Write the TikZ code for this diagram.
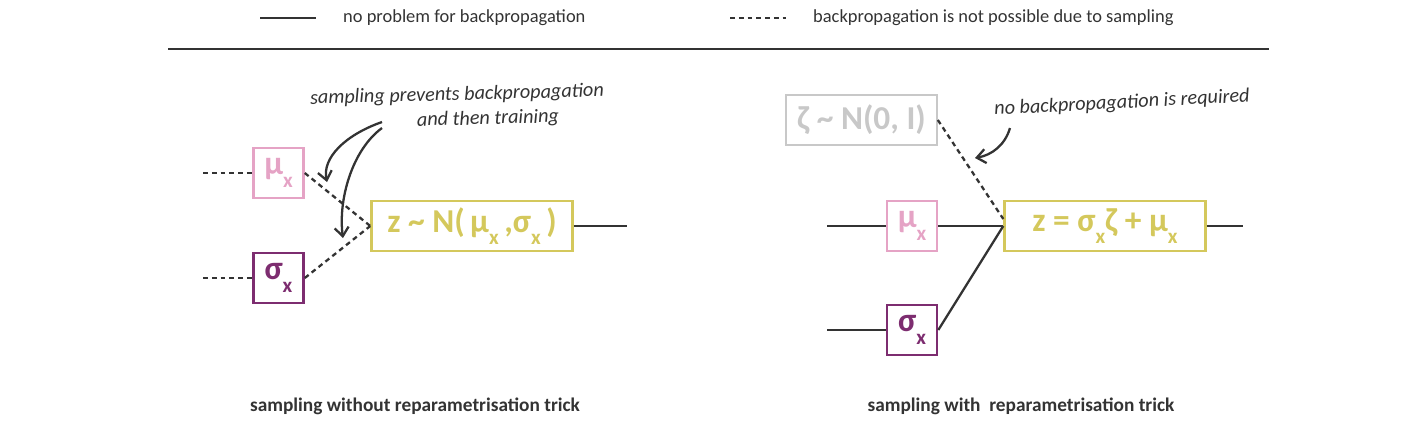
\documentclass[tikz,border=0pt]{standalone}
\usepackage{fontspec}
\setmainfont{Carlito}
\usetikzlibrary{arrows.meta}

\definecolor{linegray}{RGB}{51,51,51}
\definecolor{mupink}{RGB}{229,163,197}
\definecolor{sigmapurple}{RGB}{125,45,112}
\definecolor{zyellow}{RGB}{212,200,92}
\definecolor{zetagray}{RGB}{200,200,200}

% lowered subscript x as in the boxes
\newcommand{\lowsub}{\raisebox{-0.38em}{\fontsize{12}{12}\selectfont x}}

\tikzset{
    box/.style={draw, line width=1.3pt, inner sep=0pt, minimum height=28.3pt,
        font=\bfseries\fontsize{19}{21}\selectfont},
    smallbox/.style={box, minimum width=28.6pt},
    solidline/.style={draw=linegray, line width=1.3pt},
    dashline/.style={draw=linegray, line width=1.3pt, dash pattern=on 2.8pt off 2.2pt},
    note/.style={font=\itshape\fontsize{11.5}{13}\selectfont, text=linegray},
    legendtext/.style={anchor=west, font=\fontsize{10.5}{12}\selectfont, text=linegray},
    caption/.style={font=\bfseries\fontsize{11}{13}\selectfont, text=linegray},
    handarrow/.style={-{Straight Barb[length=5pt,width=8pt]}, line width=1.3pt, linegray}
}

\begin{document}
\begin{tikzpicture}[x=0.02cm, y=-0.02cm]
    \useasboundingbox (0,0) rectangle (1427,441);

    % Legend
    \coordinate (solida) at (260,18);
    \coordinate (solidb) at (316,18);
    \coordinate (dasha) at (730,18);
    \coordinate (dashb) at (786,18);
    \draw[solidline] (solida) -- (solidb);
    \draw[dashline] (dasha) -- (dashb);
    \node[legendtext] (solidtext) at (337,18) {no problem for backpropagation};
    \node[legendtext] (dashtext) at (807,18) {backpropagation is not possible due to sampling};
    \draw[linegray, line width=0.7pt] (168,49) -- (1269,49);

    % Left: sampling without the trick
    \node[smallbox, draw=mupink, text=mupink] (mu) at (278.5,173) {μ\lowsub};
    \node[smallbox, draw=sigmapurple, text=sigmapurple] (sigma) at (278.5,278) {σ\lowsub};
    \node[box, draw=zyellow, text=zyellow, minimum width=114.5pt] (z) at (472,226)
        {z \textasciitilde{} N(\,μ\lowsub\,,σ\lowsub\,)};
    \coordinate (muin) at (203,173);
    \coordinate (sigmain) at (203,278);
    \coordinate (zout) at (627,226);
    \draw[dashline] (muin) -- (mu);
    \draw[dashline] (sigmain) -- (sigma);
    \draw[dashline] (mu.east) -- (z.west);
    \draw[dashline] (sigma.east) -- (z.west);
    \draw[solidline] (z.east) -- (zout);

    % Note on the left
    \node[note, rotate=1.5] (prevent) at (457,95) {sampling prevents backpropagation};
    \node[note, rotate=1.5] (training) at (488,119) {and then training};
    \coordinate (arrowa) at (382,122);
    \coordinate (arrowb) at (382,128);
    \draw[handarrow] (arrowa) .. controls (345,135) and (322,158) .. (327,182);
    \draw[handarrow] (arrowb) .. controls (352,150) and (338,200) .. (343,238);

    \node[caption] (leftcaption) at (415,406) {sampling without reparametrisation trick};

    % Right: sampling with the trick
    \node[box, draw=zetagray, text=zetagray, minimum width=85.6pt] (zeta) at (861.5,120)
        {ζ \textasciitilde{} N(0, I)};
    \node[smallbox, draw=mupink, text=mupink] (mutwo) at (912,226) {μ\lowsub};
    \node[smallbox, draw=sigmapurple, text=sigmapurple] (sigmatwo) at (912,330) {σ\lowsub};
    \node[box, draw=zyellow, text=zyellow, minimum width=114.5pt] (ztwo) at (1105,226)
        {z = σ\lowsub ζ + μ\lowsub};
    \coordinate (mutwoin) at (827,226);
    \coordinate (sigmatwoin) at (827,330);
    \coordinate (ztwoout) at (1243,226);
    \draw[solidline] (mutwoin) -- (mutwo);
    \draw[solidline] (sigmatwoin) -- (sigmatwo);
    \draw[solidline] (mutwo.east) -- (ztwo.west);
    \draw[solidline] (sigmatwo.east) -- (ztwo.west);
    \draw[solidline] (ztwo.east) -- (ztwoout);
    \draw[dashline] (zeta.east) -- ([yshift=4pt]ztwo.west);

    % Note on the right
    \node[note, rotate=3] (required) at (1122,103) {no backpropagation is required};
    \coordinate (arrowc) at (1010,128);
    \draw[handarrow] (arrowc) .. controls (1005,145) and (992,155) .. (975,158);

    \node[caption] (rightcaption) at (1021,406) {sampling with\ \ reparametrisation trick};
\end{tikzpicture}
\end{document}
